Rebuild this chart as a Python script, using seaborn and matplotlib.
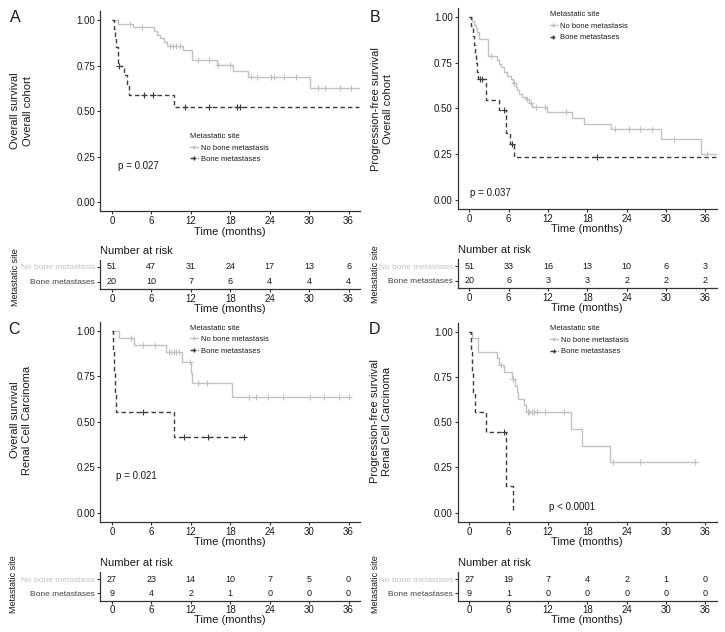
import numpy as np
import pandas as pd
import matplotlib
matplotlib.use('Agg')
import matplotlib.pyplot as plt
import seaborn as sns
from matplotlib.lines import Line2D

sns.set_style('ticks')
plt.rcParams['font.family'] = ['Liberation Sans', 'DejaVu Sans']

# ---------------- data ----------------
groups = ['No bone metastasis', 'Bone metastases']
time_ticks = [0, 6, 12, 18, 24, 30, 36]

# Panel A: overall survival, overall cohort
A_nobone_t = [1.0, 3.2, 6.4, 6.9, 7.4, 7.9, 8.4, 10.8, 12.2, 16.0, 18.5, 20.7, 30.2]
A_nobone_s = [0.980, 0.960, 0.940, 0.920, 0.900, 0.880, 0.860, 0.838, 0.780, 0.752, 0.718, 0.688, 0.630]
A_nobone_cens = [2.8, 4.6, 8.8, 9.3, 9.8, 10.3, 13.1, 14.7, 16.2, 18.0, 21.1, 22.1, 24.2, 24.7, 26.2, 28.0, 31.4, 32.4, 34.7, 36.3]
A_nobone_end = 37.6
A_bone_t = [0.3, 0.5, 0.7, 0.9, 1.0, 1.8, 2.3, 2.6, 9.5]
A_bone_s = [0.95, 0.90, 0.85, 0.80, 0.75, 0.70, 0.645, 0.59, 0.525]
A_bone_cens = [1.1, 4.9, 6.2, 11.1, 14.7, 19.0, 19.5]
A_bone_end = 37.6
A_risk_nobone = [51, 47, 31, 24, 17, 13, 6]
A_risk_bone = [20, 10, 7, 6, 4, 4, 4]
A_pval = 'p = 0.027'

# Panel B: progression-free survival, overall cohort
B_nobone_t = [0.35, 0.7, 1.0, 1.2, 1.5, 2.9, 4.3, 4.6, 4.9, 5.3, 5.8, 6.3, 6.6, 7.1, 7.3, 7.6,
              8.1, 8.6, 9.1, 9.6, 11.8, 15.7, 17.5, 21.6, 29.2, 35.4]
B_nobone_s = [0.98, 0.96, 0.94, 0.92, 0.88, 0.79, 0.765, 0.745, 0.725, 0.70, 0.68, 0.66, 0.64, 0.62, 0.60, 0.58,
              0.565, 0.55, 0.53, 0.51, 0.48, 0.45, 0.415, 0.385, 0.33, 0.25]
B_nobone_cens = [3.25, 6.8, 8.8, 9.4, 10.1, 11.5, 14.7, 22.3, 24.4, 26.1, 27.9, 31.2, 36.3]
B_nobone_end = 37.6
B_bone_t = [0.2, 0.5, 0.7, 0.9, 1.0, 1.2, 1.4, 2.5, 4.5, 5.6, 6.2, 6.8]
B_bone_s = [0.95, 0.90, 0.85, 0.80, 0.75, 0.70, 0.66, 0.545, 0.49, 0.365, 0.305, 0.232]
B_bone_cens = [1.6, 1.9, 5.3, 6.55, 19.5]
B_bone_end = 37.6
B_risk_nobone = [51, 33, 16, 13, 10, 6, 3]
B_risk_bone = [20, 6, 3, 3, 2, 2, 2]
B_pval = 'p = 0.037'

# Panel C: overall survival, renal cell carcinoma
C_nobone_t = [1.1, 3.3, 8.3, 10.6, 12.0, 12.2, 18.3]
C_nobone_s = [0.963, 0.926, 0.883, 0.828, 0.767, 0.712, 0.638]
C_nobone_cens = [2.9, 4.8, 6.5, 8.7, 9.0, 9.4, 9.8, 10.2, 11.9, 13.1, 14.5, 20.8, 21.9, 23.8, 26.0, 30.1, 32.3, 34.6, 36.1]
C_nobone_end = 36.3
C_bone_t = [0.15, 0.3, 0.45, 0.6, 9.4]
C_bone_s = [0.889, 0.778, 0.667, 0.556, 0.417]
C_bone_cens = [4.8, 10.9, 14.6, 20.1]
C_bone_end = 20.1
C_risk_nobone = [27, 23, 14, 10, 7, 5, 0]
C_risk_bone = [9, 4, 2, 1, 0, 0, 0]
C_pval = 'p = 0.021'

# Panel D: progression-free survival, renal cell carcinoma
D_nobone_t = [0.4, 1.4, 4.2, 4.6, 5.3, 6.5, 6.9, 7.2, 7.4, 8.4, 8.7, 15.5, 17.2, 21.4]
D_nobone_s = [0.963, 0.889, 0.852, 0.815, 0.777, 0.74, 0.70, 0.667, 0.63, 0.593, 0.556, 0.463, 0.37, 0.278]
D_nobone_cens = [4.8, 6.6, 8.9, 9.1, 9.5, 9.8, 10.3, 11.6, 14.5, 21.9, 26.0, 34.4]
D_nobone_end = 34.6
D_bone_t = [0.2, 0.4, 0.6, 0.8, 2.5, 5.6, 6.7]
D_bone_s = [0.889, 0.778, 0.667, 0.556, 0.444, 0.148, 0.0]
D_bone_cens = [5.3]
D_bone_end = 6.7
D_risk_nobone = [27, 19, 7, 4, 2, 1, 0]
D_risk_bone = [9, 1, 0, 0, 0, 0, 0]
D_pval = 'p < 0.0001'

# ---------------- styling ----------------
W, H = 725, 632
fig = plt.figure(figsize=(W / 100, H / 100), dpi=100)


def rect(l, t, r, b):
    return [l / W, 1 - b / H, (r - l) / W, (b - t) / H]


LIGHT = '#C2C2C2'
DARK = '#3C3C3C'
AXC = '#333333'
TXT = '#1A1A1A'
DASH = (0, (3.2, 2.2))


def surv_at(t_steps, s_steps, times):
    tt = np.r_[0.0, t_steps]
    ss = np.r_[1.0, s_steps]
    idx = np.searchsorted(tt, np.asarray(times), side='right') - 1
    return ss[idx]


def style_axis(ax):
    for sp in ['top', 'right']:
        ax.spines[sp].set_visible(False)
    for sp in ['left', 'bottom']:
        ax.spines[sp].set_color(AXC)
        ax.spines[sp].set_linewidth(0.9)
    ax.tick_params(axis='both', length=2.5, width=0.8, color=AXC, labelsize=7,
                   labelcolor=TXT, pad=1)
    ax.set_xlim(-1.8, 37.8)
    ax.set_xticks(time_ticks)
    ax.set_xticklabels([str(t) for t in time_ticks])


def km_panel(ax, curves, pval, pval_xy, leg_anchor):
    for t, s, cens, end, color, ls in curves:
        tt = np.r_[0.0, t, end]
        ss = np.r_[1.0, s, s[-1]]
        df = pd.DataFrame({'t': tt, 's': ss})
        sns.lineplot(data=df, x='t', y='s', ax=ax, color=color, drawstyle='steps-post',
                     estimator=None, sort=False, linewidth=1.0, linestyle=ls)
        cs = surv_at(t, s, cens)
        sns.scatterplot(x=cens, y=cs, ax=ax, marker='+', color=color, s=14,
                        linewidth=0.8, zorder=3)
    style_axis(ax)
    ax.set_ylim(-0.05, 1.05)
    ax.set_yticks([0, 0.25, 0.5, 0.75, 1.0])
    ax.set_yticklabels(['0.00', '0.25', '0.50', '0.75', '1.00'])
    ax.set_xlabel('Time (months)', fontsize=8, color=TXT, labelpad=0.5)
    ax.set_ylabel('')
    ax.text(pval_xy[0], pval_xy[1], pval, fontsize=7, color=TXT, ha='left', va='center')
    handles = [Line2D([], [], color=LIGHT, lw=1.0, marker='+', markersize=3.5),
               Line2D([], [], color=DARK, lw=1.0, linestyle=DASH, marker='+', markersize=3.5)]
    leg = ax.legend(handles, groups, title='Metastatic site', loc='upper left',
                    bbox_to_anchor=leg_anchor, frameon=False, fontsize=5.5,
                    title_fontsize=5.5, handlelength=1.0, handletextpad=0.4,
                    labelspacing=0.55, borderpad=0, borderaxespad=0, alignment='left')
    for txt in leg.get_texts():
        txt.set_color(TXT)
    leg.get_title().set_color(TXT)


def risk_panel(ax, nob, bone):
    style_axis(ax)
    ax.set_ylim(2.5, 0.5)
    ax.set_yticks([1, 2])
    ax.set_yticklabels(groups)
    ax.tick_params(axis='y', labelsize=6)
    ax.get_yticklabels()[0].set_color(LIGHT)
    ax.get_yticklabels()[1].set_color('#444444')
    for x, v in zip(time_ticks, nob):
        ax.text(x, 1, str(v), ha='center', va='center', fontsize=6.5, color=TXT)
    for x, v in zip(time_ticks, bone):
        ax.text(x, 2, str(v), ha='center', va='center', fontsize=6.5, color=TXT)
    ax.set_xlabel('Time (months)', fontsize=8, color=TXT, labelpad=0)
    ax.set_title('Number at risk', loc='left', fontsize=8, color=TXT, pad=4)


panels = [
    dict(main=(100, 11, 360.4, 211.4), risk=(100, 259.5, 360.4, 289),
         curves=[(A_nobone_t, A_nobone_s, A_nobone_cens, A_nobone_end, LIGHT, '-'),
                 (A_bone_t, A_bone_s, A_bone_cens, A_bone_end, DARK, DASH)],
         pval=A_pval, pxy=(0.9, 0.20), leg=(0.346, 0.391),
         rn=A_risk_nobone, rb=A_risk_bone,
         letter='A', lxy=(15, 17), ylab='Overall survival\nOverall cohort', ylxy=(21.5, 111),
         mxy=(16, 277)),
    dict(main=(457.5, 8.2, 717.1, 208.7), risk=(457.5, 259, 717.1, 288),
         curves=[(B_nobone_t, B_nobone_s, B_nobone_cens, B_nobone_end, LIGHT, '-'),
                 (B_bone_t, B_bone_s, B_bone_cens, B_bone_end, DARK, DASH)],
         pval=B_pval, pxy=(0.1, 0.034), leg=(0.355, 0.985),
         rn=B_risk_nobone, rb=B_risk_bone,
         letter='B', lxy=(375, 17), ylab='Progression-free survival\nOverall cohort', ylxy=(382, 109),
         mxy=(376, 274)),
    dict(main=(100, 322, 360.4, 521.8), risk=(100, 572, 360.4, 600.5),
         curves=[(C_nobone_t, C_nobone_s, C_nobone_cens, C_nobone_end, LIGHT, '-'),
                 (C_bone_t, C_bone_s, C_bone_cens, C_bone_end, DARK, DASH)],
         pval=C_pval, pxy=(0.56, 0.20), leg=(0.346, 0.987),
         rn=C_risk_nobone, rb=C_risk_bone,
         letter='C', lxy=(14, 330), ylab='Overall survival\nRenal Cell Carcinoma', ylxy=(21, 420),
         mxy=(14, 584)),
    dict(main=(457.5, 322.6, 717.1, 521.7), risk=(457.5, 572, 717.1, 600.5),
         curves=[(D_nobone_t, D_nobone_s, D_nobone_cens, D_nobone_end, LIGHT, '-'),
                 (D_bone_t, D_bone_s, D_bone_cens, D_bone_end, DARK, DASH)],
         pval=D_pval, pxy=(12.2, 0.03), leg=(0.357, 0.987),
         rn=D_risk_nobone, rb=D_risk_bone,
         letter='D', lxy=(375, 330), ylab='Progression-free survival\nRenal Cell Carcinoma', ylxy=(381, 421),
         mxy=(376, 584)),
]

for p in panels:
    ax = fig.add_axes(rect(*p['main']))
    km_panel(ax, p['curves'], p['pval'], p['pxy'], p['leg'])
    axr = fig.add_axes(rect(*p['risk']))
    risk_panel(axr, p['rn'], p['rb'])
    fig.text(p['lxy'][0] / W, 1 - p['lxy'][1] / H, p['letter'], fontsize=11.5,
             ha='center', va='center', color=TXT)
    fig.text(p['ylxy'][0] / W, 1 - p['ylxy'][1] / H, p['ylab'], fontsize=8, rotation=90,
             ha='center', va='center', multialignment='center', linespacing=1.35, color=TXT)
    fig.text(p['mxy'][0] / W, 1 - p['mxy'][1] / H, 'Metastatic site', fontsize=6.5,
             rotation=90, ha='center', va='center', color=TXT)

fig.savefig('out.png', dpi=100, facecolor='white')
